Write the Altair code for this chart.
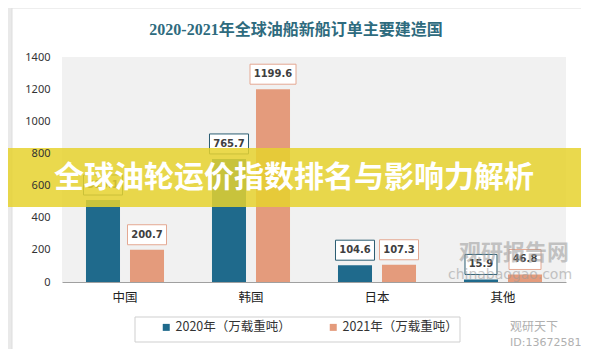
import altair as alt
import pandas as pd

# ---- data ----
categories = ["中国", "韩国", "日本", "其他"]
series = ["2020年（万载重吨）", "2021年（万载重吨）"]
values_2020 = [510.1, 765.7, 104.6, 15.9]
values_2021 = [200.7, 1199.6, 107.3, 46.8]
y_ticks = [0, 200, 400, 600, 800, 1000, 1200, 1400]

title_text = "2020-2021年全球油船新船订单主要建造国"
banner_text = "全球油轮运价指数排名与影响力解析"
wm1 = "观研报告网"
wm2 = "chinabaogao.com"
wm3 = "观研天下"
wm4 = "ID:13672581"

BLUE = "#1f6a8c"
SALMON = "#e49b7c"
BOX_BLUE = "#2b5d72"
BOX_SALMON = "#e4a892"

rows = []
for s, vals in zip(series, [values_2020, values_2021]):
    for c, v in zip(categories, vals):
        lab = f"{v:.1f}"
        hw = (7 * len(lab) + 4) / 20.0  # half width in symbol units (size=400 -> r=10)
        path = f"M{-hw},-1H{hw}V1H{-hw}Z"
        rows.append({"category": c, "series": s, "value": v, "label": lab, "path": path})
df = pd.DataFrame(rows)

W, H = 504, 225

x_enc = alt.X("category:N", sort=categories,
              scale=alt.Scale(paddingInner=0, paddingOuter=0),
              axis=alt.Axis(title=None, labelAngle=0, ticks=False, domainColor="#a0a0a0",
                            labelFont="Noto Sans CJK SC", labelFontSize=12.5, labelColor="#222222",
                            labelPadding=9, zindex=1))
xoff_enc = alt.XOffset("series:N", sort=series,
                       scale=alt.Scale(paddingInner=0.227, paddingOuter=0.545))
y_enc = alt.Y("value:Q", scale=alt.Scale(domain=[0, 1400]),
              axis=alt.Axis(title=None, values=y_ticks, format="d", labelOverlap=False,
                            labelFlush=False, grid=False, ticks=False, domain=False,
                            labelFont="Noto Sans", labelFontSize=11, labelColor="#333333",
                            labelPadding=12, zindex=1))

one = pd.DataFrame({"k": [0]})

card = alt.Chart(one).mark_rect(fill="white", stroke="#dddddd").encode(
    x=alt.value(-50), x2=alt.value(522), y=alt.value(-49), y2=alt.value(293))

plot_bg = alt.Chart(one).mark_rect(fill="#f1f1f1").encode(
    x=alt.value(0), x2=alt.value(W), y=alt.value(0), y2=alt.value(H))

bars = alt.Chart(df).mark_bar().encode(
    x=x_enc, xOffset=xoff_enc, y=y_enc,
    color=alt.Color("series:N", sort=series,
                    scale=alt.Scale(domain=series, range=[BLUE, SALMON]),
                    legend=alt.Legend(title=None, orient="none", legendX=98, legendY=264,
                                      direction="horizontal", symbolType="square",
                                      symbolSize=49, symbolStrokeWidth=0,
                                      labelFont="Noto Sans CJK SC", labelFontSize=12.5,
                                      labelColor="#333333", columnPadding=36, labelOffset=3)))

boxes = alt.Chart(df).mark_point(filled=True, fill="white", size=400, strokeWidth=1,
                                 opacity=1, yOffset=-15).encode(
    x=x_enc, xOffset=xoff_enc, y=y_enc,
    shape=alt.Shape("path:N", scale=None),
    stroke=alt.Stroke("series:N", scale=alt.Scale(domain=series, range=[BOX_BLUE, BOX_SALMON]),
                      legend=None))

labels = alt.Chart(df).mark_text(dy=-15, font="DejaVu Sans", fontSize=10, fontWeight="bold",
                                 color="#404040", baseline="middle").encode(
    x=x_enc, xOffset=xoff_enc, y=y_enc, text="label:N")

legend_box = alt.Chart(one).mark_rect(fill="white", stroke="#cfcfcf").encode(
    x=alt.value(73), x2=alt.value(398), y=alt.value(260), y2=alt.value(285))

wm_a = alt.Chart(pd.DataFrame({"t": [wm1]})).mark_text(
    font="Noto Sans CJK SC", fontSize=22, fontWeight="bold", color="#9a9a9a", opacity=0.55).encode(
    text="t:N", x=alt.value(452), y=alt.value(196))
wm_b = alt.Chart(pd.DataFrame({"t": [wm2]})).mark_text(
    font="DejaVu Sans", fontSize=14, color="#9a9a9a", opacity=0.55).encode(
    text="t:N", x=alt.value(448), y=alt.value(218))
wm_c = alt.Chart(pd.DataFrame({"t": [wm3]})).mark_text(
    font="Noto Sans CJK SC", fontSize=12, color="#b0b0b0", align="left").encode(
    text="t:N", x=alt.value(448), y=alt.value(270))
wm_d = alt.Chart(pd.DataFrame({"t": [wm4]})).mark_text(
    font="DejaVu Sans", fontSize=11, color="#b0b0b0", align="left").encode(
    text="t:N", x=alt.value(448), y=alt.value(286))

banner = alt.Chart(one).mark_rect(fill="#e6d22e", opacity=0.85).encode(
    x=alt.value(-60), x2=alt.value(530), y=alt.value(91), y2=alt.value(150))
banner_t = alt.Chart(pd.DataFrame({"t": [banner_text]})).mark_text(
    font="Noto Sans CJK SC", fontSize=30, fontWeight="bold", color="white").encode(
    text="t:N", x=alt.value(232), y=alt.value(121))

title = alt.Chart(pd.DataFrame({"t": [title_text]})).mark_text(
    font="Liberation Serif, Noto Sans CJK SC", fontSize=16, fontWeight="bold", color="#2e6b7e").encode(
    text="t:N", x=alt.value(234), y=alt.value(-27))

chart = alt.layer(card, plot_bg, bars, boxes, labels, legend_box,
                  wm_a, wm_b, wm_c, wm_d, banner, banner_t, title).properties(
    width=W, height=H,
    autosize=alt.AutoSizeParams(type="none"),
    padding={"left": 54, "top": 49, "right": 15, "bottom": 67},
    background="#e9e9e9",
).configure_view(stroke=None).configure_axis(labelOverlap=False)

chart.save("out.html", embed_options={"renderer": "svg", "actions": False})
